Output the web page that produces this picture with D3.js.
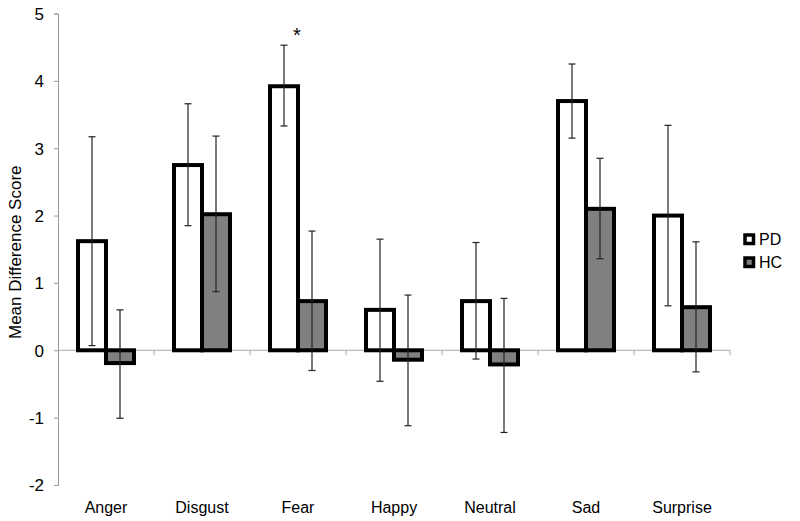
<!DOCTYPE html>
<html>
<head>
<meta charset="utf-8">
<script src="https://cdn.jsdelivr.net/npm/d3@7"></script>
<style>
  body { margin: 0; background: #fff; }
  text { font-family: "Liberation Sans", Arial, sans-serif; fill: #000; }
</style>
</head>
<body>
<div id="chart"></div>
<script>
const categories = ["Anger", "Disgust", "Fear", "Happy", "Neutral", "Sad", "Surprise"];
const series = ["PD", "HC"];
const pdMean = [1.62, 2.75, 3.92, 0.60, 0.73, 3.70, 2.00];
const pdLow  = [0.07, 1.85, 3.33, -0.46, -0.13, 3.15, 0.66];
const pdHigh = [3.17, 3.66, 4.53, 1.65, 1.60, 4.25, 3.34];
const hcMean = [-0.19, 2.02, 0.73, -0.14, -0.21, 2.10, 0.64];
const hcLow  = [-1.01, 0.87, -0.30, -1.12, -1.22, 1.36, -0.32];
const hcHigh = [0.60, 3.18, 1.77, 0.82, 0.77, 2.85, 1.61];
const yTicks = [-2, -1, 0, 1, 2, 3, 4, 5];
const starred = ["Fear"];

const width = 800, height = 521;
const margin = { top: 13.5, right: 70, bottom: 36, left: 58 };

const svg = d3.select("#chart").append("svg")
  .attr("width", width).attr("height", height);

const x = d3.scaleBand().domain(categories).range([margin.left, 730]);
const xs = d3.scaleBand().domain(series).range([0, 56]);
const y = d3.scaleLinear().domain([-2, 5]).range([height - margin.bottom, margin.top]);

const rows = [];
categories.forEach((c, i) => {
  rows.push({ cat: c, s: "PD", v: pdMean[i], lo: pdLow[i], hi: pdHigh[i], fill: "#fff" });
  rows.push({ cat: c, s: "HC", v: hcMean[i], lo: hcLow[i], hi: hcHigh[i], fill: "#808080" });
});
const barX = d => x(d.cat) + (x.bandwidth() - 56) / 2 + xs(d.s);

// y axis
const yAxis = svg.append("g").attr("transform", `translate(${margin.left},0)`)
  .call(d3.axisLeft(y).tickValues(yTicks).tickFormat(d => String(d)).tickSize(4).tickPadding(10));
yAxis.select(".domain").attr("stroke", "#999");
yAxis.selectAll(".tick line").attr("stroke", "#999");
yAxis.selectAll("text").style("font-size", "17px").attr("dy", "0.35em");

// zero line with category ticks
svg.append("line")
  .attr("x1", margin.left).attr("x2", 730)
  .attr("y1", y(0)).attr("y2", y(0))
  .attr("stroke", "#aaa");
svg.append("g").selectAll("line")
  .data(categories)
  .join("line")
  .attr("x1", d => x(d) + x.bandwidth())
  .attr("x2", d => x(d) + x.bandwidth())
  .attr("y1", y(0)).attr("y2", y(0) + 5)
  .attr("stroke", "#aaa");

// bars
svg.append("g").selectAll("rect").data(rows).join("rect")
  .attr("x", barX)
  .attr("width", xs.bandwidth())
  .attr("y", d => y(Math.max(0, d.v)))
  .attr("height", d => Math.abs(y(d.v) - y(0)))
  .attr("fill", d => d.fill)
  .attr("stroke", "#000")
  .attr("stroke-width", 4);

// error bars
const eb = svg.append("g").attr("stroke", "#222").attr("stroke-width", 1.2);
rows.forEach(d => {
  const cx = barX(d) + xs.bandwidth() / 2;
  eb.append("line").attr("x1", cx).attr("x2", cx).attr("y1", y(d.lo)).attr("y2", y(d.hi));
  [d.lo, d.hi].forEach(v => {
    eb.append("line").attr("x1", cx - 3.5).attr("x2", cx + 3.5).attr("y1", y(v)).attr("y2", y(v));
  });
});

// significance star
starred.forEach(c => {
  const i = categories.indexOf(c);
  svg.append("text")
    .attr("x", x(c) + x.bandwidth() / 2 - 1).attr("y", y(pdHigh[i]) - 3)
    .attr("text-anchor", "middle")
    .style("font-size", "20px")
    .text("*");
});

// x labels
svg.append("g").selectAll("text").data(categories).join("text")
  .attr("x", d => x(d) + x.bandwidth() / 2)
  .attr("y", 513)
  .attr("text-anchor", "middle")
  .style("font-size", "16px")
  .text(d => d);

// y label
svg.append("text")
  .attr("transform", `translate(21,${(y(5) + y(-2)) / 2 + 3}) rotate(-90)`)
  .attr("text-anchor", "middle")
  .style("font-size", "17px")
  .text("Mean Difference Score");

// legend
const lg = svg.append("g").attr("transform", "translate(745,235)");
series.forEach((s, i) => {
  lg.append("rect").attr("x", 0).attr("y", i * 23)
    .attr("width", 8.5).attr("height", 8.5)
    .attr("fill", i === 0 ? "#fff" : "#808080")
    .attr("stroke", "#000").attr("stroke-width", 3.5);
  lg.append("text").attr("x", 14).attr("y", i * 23 + 10)
    .style("font-size", "16px").text(s);
});
</script>
</body>
</html>
